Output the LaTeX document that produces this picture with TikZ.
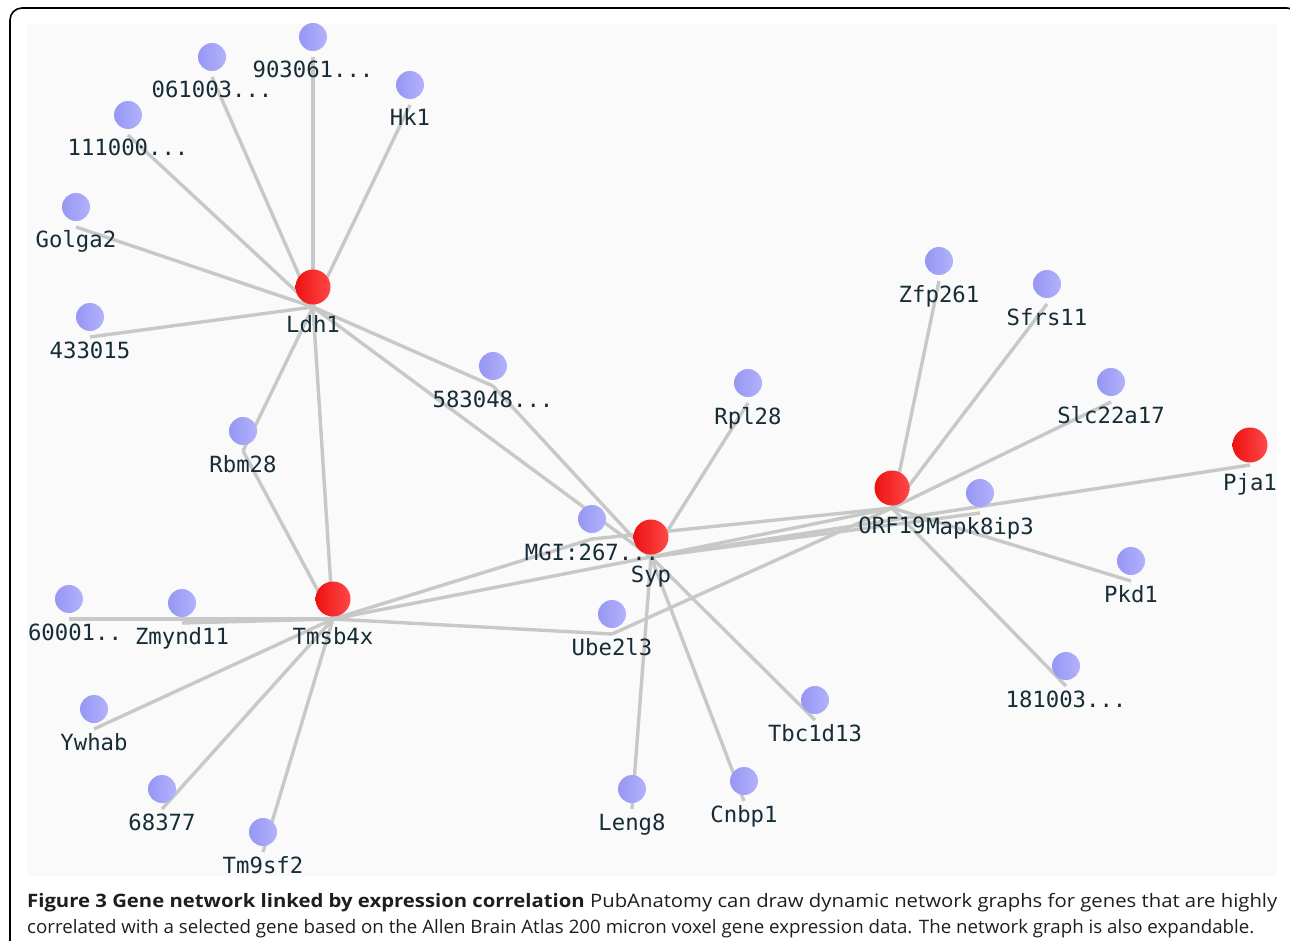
\documentclass[tikz,border=0pt]{standalone}
\usepackage{fontspec}
\usepackage{graphicx}
\setmainfont{Open Sans}
\newfontfamily\genefont{DejaVu Sans Mono}
\newcommand\genedots{...}
\definecolor{edgegray}{RGB}{200,200,200}
\definecolor{panelbg}{RGB}{249,250,249}
\definecolor{labelink}{RGB}{22,44,54}
\definecolor{blueL}{RGB}{150,150,244}
\definecolor{blueR}{RGB}{178,178,252}
\definecolor{redL}{RGB}{236,18,18}
\definecolor{redR}{RGB}{255,72,72}
\definecolor{captionink}{RGB}{30,30,30}
\tikzset{
  link/.style={draw=edgegray, line width=3.4pt},
  bluedot/.style={circle, inner sep=0pt, minimum size=28pt, shading=axis, left color=blueL, right color=blueR, shading angle=90},
  reddot/.style={circle, inner sep=0pt, minimum size=35pt, shading=axis, left color=redL, right color=redR, shading angle=90},
  genelabel/.style={anchor=base, inner sep=0pt, text=labelink, font=\genefont\fontsize{22.3pt}{25pt}\selectfont},
  frameline/.style={draw=black, line width=1.6pt, rounded corners=12pt}
}
\begin{document}
\begin{tikzpicture}[x=1pt, y=-1pt]
\useasboundingbox (0,0) rectangle (1290,941);
% outer frame of the figure
\draw[frameline] (10,960) -- (10,8) -- (1299,8) -- (1299,960);
% graph panel
\fill[panelbg] (27,24) rectangle (1277,876);
\begin{scope}
\clip (27,24) rectangle (1277,876);
% edge attachment points (20px below each dot centre)
\foreach \n/\x/\y in {
  nA/313/37, nB/212/57, hk/410/85, nC/128/115, golga/76/207, nD/90/317,
  nE/493/366, rbm/243/431, rpl/748/383, mgi/592/519, ube/612/614,
  zfp/939/261, sfrs/1047/284, slc/1111/382, mapk/980/493, pkd/1131/561,
  nF/1066/666, tbc/815/700, cnbp/744/781, leng/632/789,
  nG/69/599, zmy/182/603, ywh/94/709, nH/162/789, tm/263/832,
  ldh/313/287, syp/651/537, tms/333/599, orf/892/488, pja/1250/445}
  \coordinate (\n) at (\x,\y+20);
% correlation edges
\foreach \a/\b in {
  ldh/nA, ldh/nB, ldh/hk, ldh/nC, ldh/golga, ldh/nD, ldh/nE, ldh/rbm, ldh/tms, ldh/syp,
  nE/syp, rbm/tms,
  tms/nG, tms/zmy, tms/ywh, tms/nH, tms/tm, tms/mgi, tms/syp, tms/ube,
  syp/rpl, syp/leng, syp/cnbp, syp/tbc, syp/orf, syp/pja, syp/mapk,
  mgi/orf, ube/orf,
  orf/zfp, orf/sfrs, orf/slc, orf/pkd, orf/nF}
  \draw[link] (\a) -- (\b);
% gene dots
\foreach \n in {nA, nB, hk, nC, golga, nD, nE, rbm, rpl, mgi, ube, zfp, sfrs, slc,
  mapk, pkd, nF, tbc, cnbp, leng, nG, zmy, ywh, nH, tm}
  \node[bluedot] (\n-dot) at ([yshift=20pt]\n) {};
\foreach \n in {ldh, syp, tms, orf, pja}
  \node[reddot] (\n-dot) at ([yshift=20pt]\n) {};
% gene names
\foreach \n/\t in {
  nA/903061\genedots, nB/061003\genedots, hk/Hk1, nC/111000\genedots, golga/Golga2, nD/433015,
  nE/583048\genedots, rbm/Rbm28, rpl/Rpl28, mgi/MGI:267\genedots, ube/Ube2l3,
  zfp/Zfp261, sfrs/Sfrs11, slc/Slc22a17, mapk/Mapk8ip3, pkd/Pkd1,
  nF/181003\genedots, tbc/Tbc1d13, cnbp/Cnbp1, leng/Leng8,
  zmy/Zmynd11, ywh/Ywhab, nH/68377, tm/Tm9sf2}
  \node[genelabel] (\n-label) at ([yshift=-21pt]\n) {\t};
\node[genelabel] (nG-label) at ([xshift=6pt, yshift=-21pt]nG) {60001..};
\foreach \n/\t in {ldh/Ldh1, syp/Syp, tms/Tmsb4x, orf/ORF19, pja/Pja1}
  \node[genelabel] (\n-label) at ([yshift=-25pt]\n) {\t};
\end{scope}
% caption
\node[anchor=base west, inner sep=0pt, text=captionink] (cap1) at (27,907)
  {\resizebox{1250pt}{\height}{\fontsize{18.5pt}{22pt}\selectfont\textbf{Figure 3 Gene network linked by expression correlation} PubAnatomy can draw dynamic network graphs for genes that are highly}};
\node[anchor=base west, inner sep=0pt, text=captionink] (cap2) at (27,933)
  {\resizebox{1227pt}{\height}{\fontsize{18.5pt}{22pt}\selectfont correlated with a selected gene based on the Allen Brain Atlas 200 micron voxel gene expression data. The network graph is also expandable.}};
\end{tikzpicture}
\end{document}
